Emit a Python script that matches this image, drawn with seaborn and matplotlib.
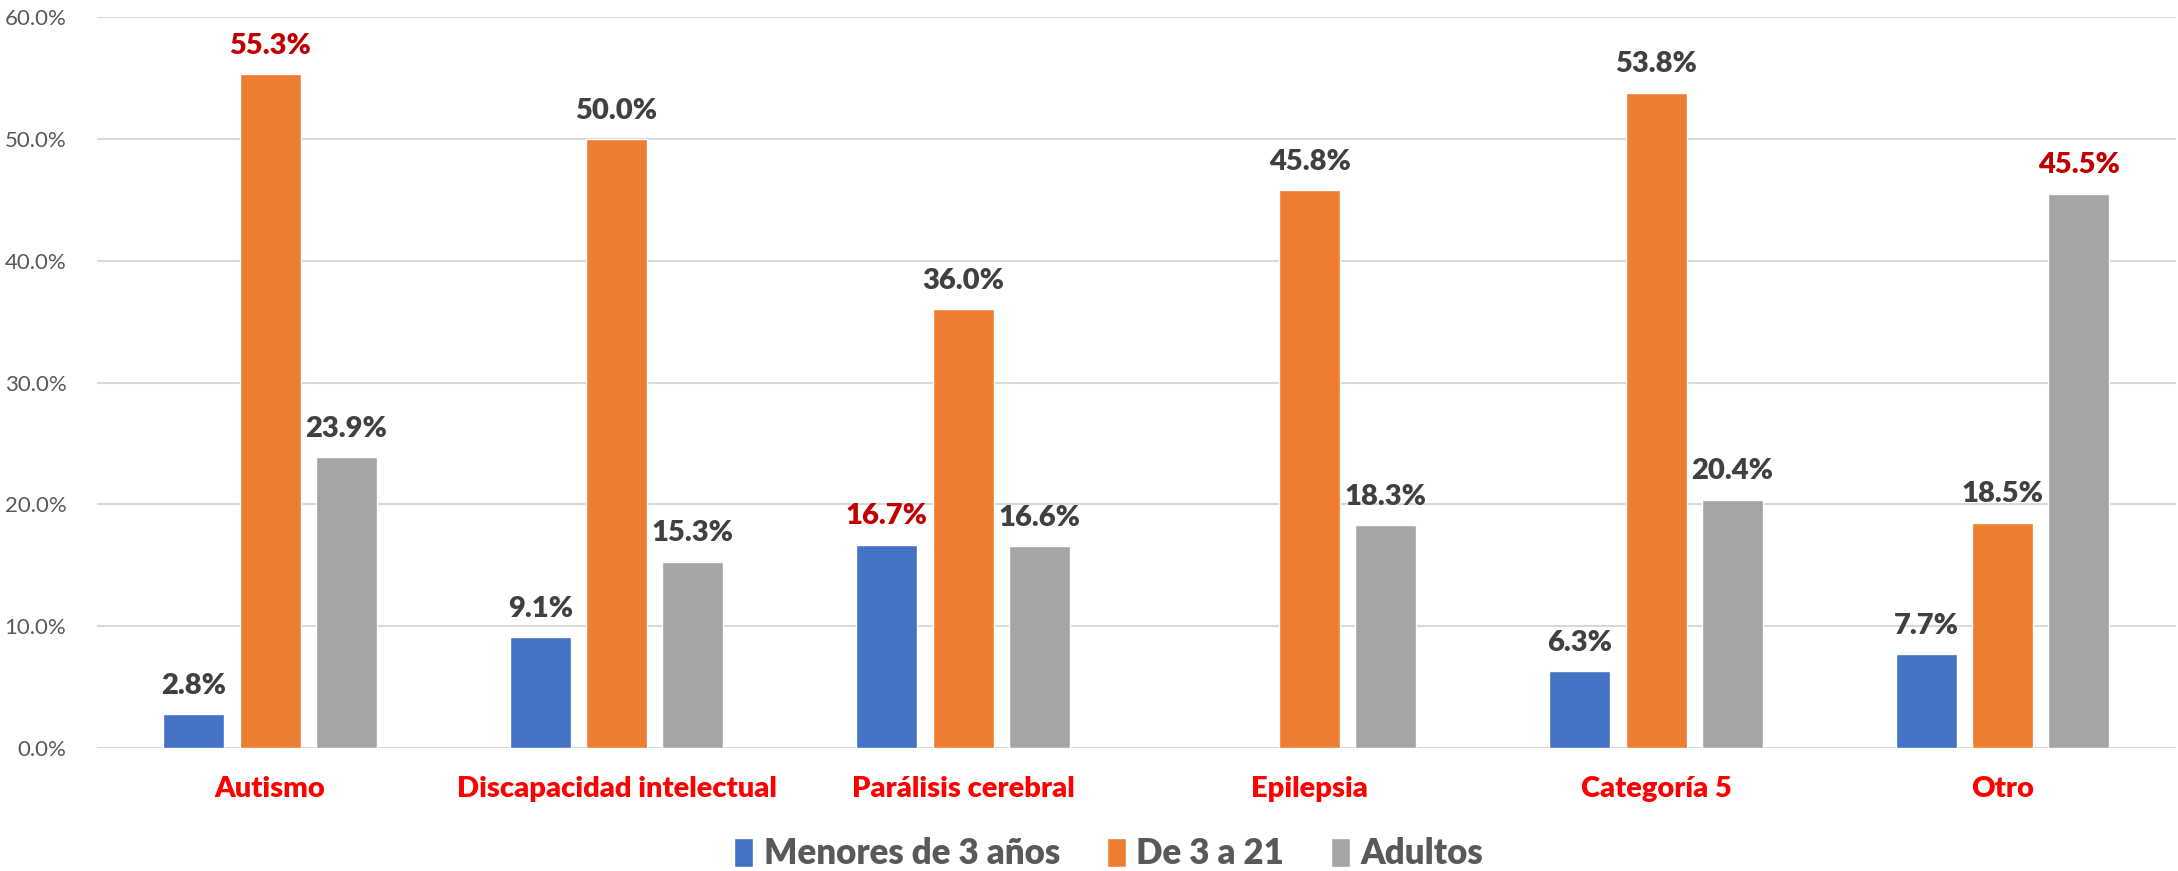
import pandas as pd
import numpy as np
import matplotlib.pyplot as plt
import seaborn as sns
from matplotlib.patches import Patch
from matplotlib.ticker import PercentFormatter

# Data
categorias = ['Autismo', 'Discapacidad intelectual', 'Parálisis cerebral',
              'Epilepsia', 'Categoría 5', 'Otro']
series = ['Menores de 3 años', 'De 3 a 21', 'Adultos']
menores = [2.8, 9.1, 16.7, np.nan, 6.3, 7.7]
de3a21 = [55.3, 50.0, 36.0, 45.8, 53.8, 18.5]
adultos = [23.9, 15.3, 16.6, 18.3, 20.4, 45.5]
# labels drawn in dark red in the original
resaltados = [('Autismo', 'De 3 a 21'), ('Parálisis cerebral', 'Menores de 3 años'),
              ('Otro', 'Adultos')]

colores = ['#4472C4', '#ED7D31', '#A5A5A5']

data = pd.DataFrame({
    'Categoria': categorias * 3,
    'Grupo': [s for s in series for _ in categorias],
    'Valor': menores + de3a21 + adultos,
})

sns.set_style('white')
plt.rcParams['font.family'] = ['Lato', 'DejaVu Sans']

fig, ax = plt.subplots(figsize=(21.78, 8.71), dpi=100)
fig.subplots_adjust(left=0.0445, right=0.999, top=0.9805, bottom=0.141)

sns.barplot(data=data, x='Categoria', y='Valor', hue='Grupo', order=categorias,
            hue_order=series, palette=colores, width=0.66, gap=0.2,
            errorbar=None, legend=False, ax=ax, saturation=1)

# Data labels
for serie, cont in zip(series, ax.containers):
    for bar in cont:
        h = bar.get_height()
        if np.isnan(h) or h == 0:
            continue
        idx = int(round(bar.get_x() + bar.get_width() / 2))
        color = '#C00000' if (categorias[idx], serie) in resaltados else '#404040'
        ax.annotate(f'{h:.1f}%', (bar.get_x() + bar.get_width() / 2, h),
                    xytext=(0, 11), textcoords='offset points',
                    ha='center', va='bottom', fontsize=21, fontweight='heavy',
                    color=color)

ax.set_ylim(0, 60)
ax.set_yticks(np.arange(0, 61, 10))
ax.yaxis.set_major_formatter(PercentFormatter(decimals=1))
ax.set_xlim(-0.5, len(categorias) - 0.5)
ax.grid(axis='y', color='#D9D9D9', linewidth=1.5)
ax.set_axisbelow(True)
for s in ax.spines.values():
    s.set_visible(False)
ax.tick_params(axis='y', labelsize=16, labelcolor='#595959', length=0, pad=22)
ax.tick_params(axis='x', labelsize=21, labelcolor='#FF0000', length=0, pad=20)
for t in ax.get_xticklabels():
    t.set_fontweight('heavy')
ax.set_xlabel('')
ax.set_ylabel('')

handles = [Patch(facecolor=c, label=s) for c, s in zip(colores, series)]
leg = fig.legend(handles=handles, loc='center', bbox_to_anchor=(0.509, 0.02),
                 ncol=3, frameon=False, fontsize=25, handlelength=0.55,
                 handleheight=0.9, handletextpad=0.3, columnspacing=1.35)
for t in leg.get_texts():
    t.set_color('#595959')
    t.set_fontweight('heavy')

fig.savefig('out.png', dpi=100)
